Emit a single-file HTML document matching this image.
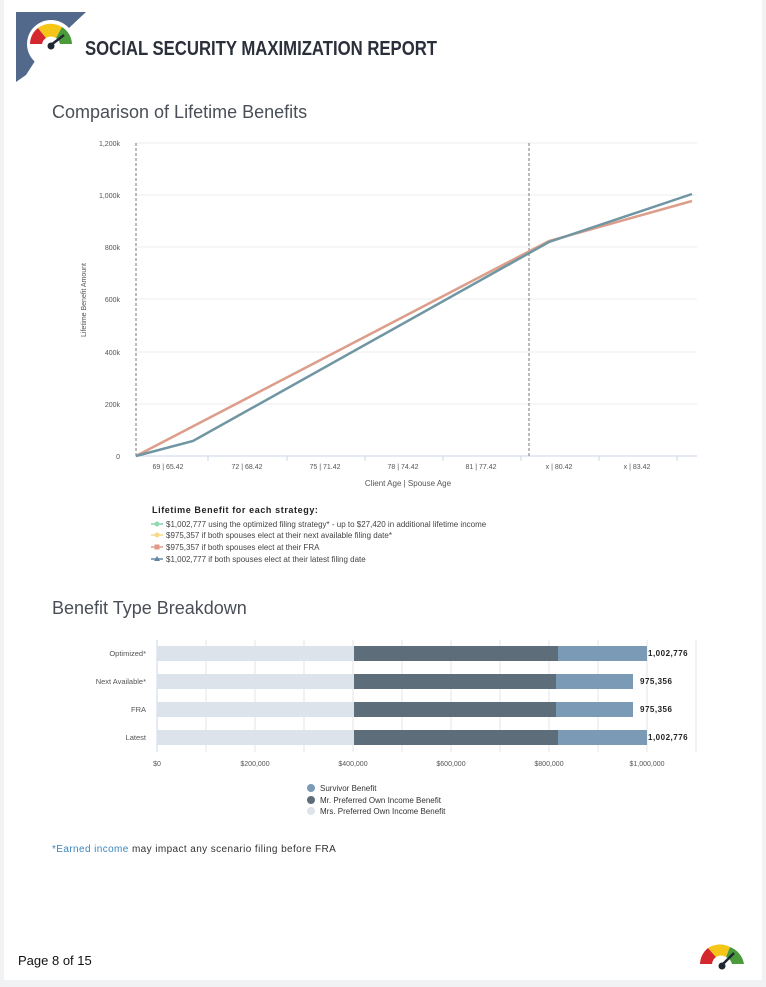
<!DOCTYPE html>
<html><head><meta charset="utf-8"><style>
body{margin:0;width:766px;height:987px;background:#f1f2f4;font-family:"Liberation Sans",sans-serif;position:relative;overflow:hidden}
.page{position:absolute;left:4px;top:0;width:758px;height:980px;background:#fff}
.t{position:absolute;white-space:nowrap}
</style></head><body>
<div class="page"></div>
<svg width="766" height="987" style="position:absolute;left:0;top:0" font-family="Liberation Sans, sans-serif">
<!-- header logo -->
<polygon points="16,12 86,12 37,58 26,75 16,82" fill="#52698c"/>
<circle cx="51" cy="44" r="24" fill="#fff"/>
<path d="M30,44 A21,21 0 0 1 38,28 L46,38 A9,9 0 0 0 42,44Z" fill="#d4272e"/>
<path d="M38,28 A21,21 0 0 1 62,27 L56,38 A9,9 0 0 0 46,38Z" fill="#f5c518"/>
<path d="M62,27 A21,21 0 0 1 72,44 L60,44 A9,9 0 0 0 56,38Z" fill="#4a9b3a"/>
<line x1="51" y1="45" x2="64" y2="35" stroke="#1f2733" stroke-width="2.5"/>
<circle cx="51" cy="46" r="3.5" fill="#1f2733"/>
<text x="85" y="55" font-size="20" fill="#2a2f3a" font-weight="bold" textLength="352" lengthAdjust="spacingAndGlyphs" style="font-stretch:condensed">SOCIAL SECURITY MAXIMIZATION REPORT</text>
<text x="52" y="118" font-size="18" fill="#4a4f57">Comparison of Lifetime Benefits</text>
<!-- line chart grid -->
<g stroke="#ececec" stroke-width="1">
<line x1="135" x2="697" y1="143" y2="143"/><line x1="135" x2="697" y1="195" y2="195"/>
<line x1="135" x2="697" y1="247" y2="247"/><line x1="135" x2="697" y1="299" y2="299"/>
<line x1="135" x2="697" y1="352" y2="352"/><line x1="135" x2="697" y1="404" y2="404"/>
</g>
<line x1="135" x2="697" y1="456" y2="456" stroke="#ccd6eb"/>
<g stroke="#ccd6eb"><line x1="208" x2="208" y1="456" y2="461"/><line x1="287" x2="287" y1="456" y2="461"/><line x1="365" x2="365" y1="456" y2="461"/><line x1="443" x2="443" y1="456" y2="461"/><line x1="521" x2="521" y1="456" y2="461"/><line x1="599" x2="599" y1="456" y2="461"/><line x1="677" x2="677" y1="456" y2="461"/></g>
<g stroke="#777" stroke-dasharray="3,2"><line x1="136" x2="136" y1="143" y2="456"/><line x1="529" x2="529" y1="143" y2="456"/></g>
<g font-size="7" fill="#555" text-anchor="end">
<text x="120" y="146">1,200k</text><text x="120" y="198">1,000k</text><text x="120" y="250">800k</text><text x="120" y="302">600k</text><text x="120" y="355">400k</text><text x="120" y="407">200k</text><text x="120" y="459">0</text></g>
<g font-size="7" fill="#555" text-anchor="middle">
<text x="168" y="469">69 | 65.42</text><text x="247" y="469">72 | 68.42</text><text x="325" y="469">75 | 71.42</text><text x="403" y="469">78 | 74.42</text><text x="481" y="469">81 | 77.42</text><text x="559" y="469">x | 80.42</text><text x="637" y="469">x | 83.42</text>
<text x="408" y="486" font-size="8">Client Age | Spouse Age</text></g>
<text transform="translate(86,300) rotate(-90)" font-size="7" fill="#555" text-anchor="middle">Lifetime Benefit Amount</text>
<polyline points="136,456 549,241 692,201" fill="none" stroke="#dc9e8a" stroke-width="2.5"/>
<polyline points="136,456 193,441 549,242 692,194" fill="none" stroke="#6f96a2" stroke-width="2.5"/>
<!-- legend -->
<text x="152" y="513" font-size="9" font-weight="bold" fill="#222" letter-spacing="0.6">Lifetime Benefit for each strategy:</text>
<g font-size="8" fill="#444">
<line x1="151" x2="163" y1="524" y2="524" stroke="#a8dfc0" stroke-width="2"/><circle cx="157" cy="524" r="2.5" fill="#8fd8b0"/><text x="166" y="527">$1,002,777 using the optimized filing strategy* - up to $27,420 in additional lifetime income</text>
<line x1="151" x2="163" y1="535" y2="535" stroke="#f7e3a8" stroke-width="2"/><circle cx="157" cy="535" r="2.5" fill="#f6d98a"/><text x="166" y="538">$975,357 if both spouses elect at their next available filing date*</text>
<line x1="151" x2="163" y1="547" y2="547" stroke="#e8b5a5" stroke-width="2"/><rect x="154.5" y="544.5" width="5" height="5" fill="#e09a85"/><text x="166" y="550">$975,357 if both spouses elect at their FRA</text>
<line x1="151" x2="163" y1="559" y2="559" stroke="#8aa7bd" stroke-width="2"/><polygon points="157,556 160,561 154,561" fill="#5e86a6"/><text x="166" y="562">$1,002,777 if both spouses elect at their latest filing date</text>
</g>
<text x="52" y="614" font-size="18" fill="#4a4f57">Benefit Type Breakdown</text>
<!-- bar chart -->
<g stroke="#e6e6e6"><line x1="206" x2="206" y1="640" y2="752"/><line x1="255" x2="255" y1="640" y2="752"/><line x1="304" x2="304" y1="640" y2="752"/><line x1="353" x2="353" y1="640" y2="752"/><line x1="402" x2="402" y1="640" y2="752"/><line x1="451" x2="451" y1="640" y2="752"/><line x1="500" x2="500" y1="640" y2="752"/><line x1="549" x2="549" y1="640" y2="752"/><line x1="598" x2="598" y1="640" y2="752"/><line x1="647" x2="647" y1="640" y2="752"/><line x1="696" x2="696" y1="640" y2="752"/></g>
<line x1="157" x2="157" y1="640" y2="752" stroke="#ccd6eb"/>
<g>
<rect x="157" y="646" width="197" height="15" fill="#dde3ea"/><rect x="354" y="646" width="204" height="15" fill="#5d6d7a"/><rect x="558" y="646" width="89" height="15" fill="#7a9ab6"/>
<rect x="157" y="674" width="197" height="15" fill="#dde3ea"/><rect x="354" y="674" width="202" height="15" fill="#5d6d7a"/><rect x="556" y="674" width="77" height="15" fill="#7a9ab6"/>
<rect x="157" y="702" width="197" height="15" fill="#dde3ea"/><rect x="354" y="702" width="202" height="15" fill="#5d6d7a"/><rect x="556" y="702" width="77" height="15" fill="#7a9ab6"/>
<rect x="157" y="730" width="197" height="15" fill="#dde3ea"/><rect x="354" y="730" width="204" height="15" fill="#5d6d7a"/><rect x="558" y="730" width="89" height="15" fill="#7a9ab6"/>
</g>
<g font-size="8" font-weight="bold" fill="#222" letter-spacing="0.5"><text x="648" y="656">1,002,776</text><text x="640" y="684">975,356</text><text x="640" y="712">975,356</text><text x="648" y="740">1,002,776</text></g>
<g font-size="7.5" fill="#555" text-anchor="end"><text x="146" y="656">Optimized*</text><text x="146" y="684">Next Available*</text><text x="146" y="712">FRA</text><text x="146" y="740">Latest</text></g>
<g font-size="7" fill="#555" text-anchor="middle"><text x="157" y="766">$0</text><text x="255" y="766">$200,000</text><text x="353" y="766">$400,000</text><text x="451" y="766">$600,000</text><text x="549" y="766">$800,000</text><text x="647" y="766">$1,000,000</text></g>
<g font-size="8" fill="#333">
<circle cx="311" cy="788" r="4" fill="#7a9ab6"/><text x="320" y="791">Survivor Benefit</text>
<circle cx="311" cy="800" r="4" fill="#5d6d7a"/><text x="320" y="803">Mr. Preferred Own Income Benefit</text>
<circle cx="311" cy="811" r="4" fill="#dde3ea"/><text x="320" y="814">Mrs. Preferred Own Income Benefit</text>
</g>
<text x="52" y="852" font-size="10" fill="#333" letter-spacing="0.4"><tspan fill="#3a86c0">*Earned income</tspan> may impact any scenario filing before FRA</text>
<text x="18" y="965" font-size="13" fill="#111">Page 8 of 15</text>
<!-- footer gauge -->
<path d="M700,964 A22,22 0 0 1 708,948 L716,957 A10,10 0 0 0 712,964Z" fill="#d4272e"/>
<path d="M708,948 A22,22 0 0 1 730,947 L726,957 A10,10 0 0 0 716,957Z" fill="#f5c518"/>
<path d="M730,947 A22,22 0 0 1 744,964 L732,964 A10,10 0 0 0 726,957Z" fill="#4a9b3a"/>
<line x1="722" y1="965" x2="734" y2="953" stroke="#1f2733" stroke-width="2.5"/>
<circle cx="722" cy="966" r="3.5" fill="#1f2733"/>
</svg>
</body></html>
